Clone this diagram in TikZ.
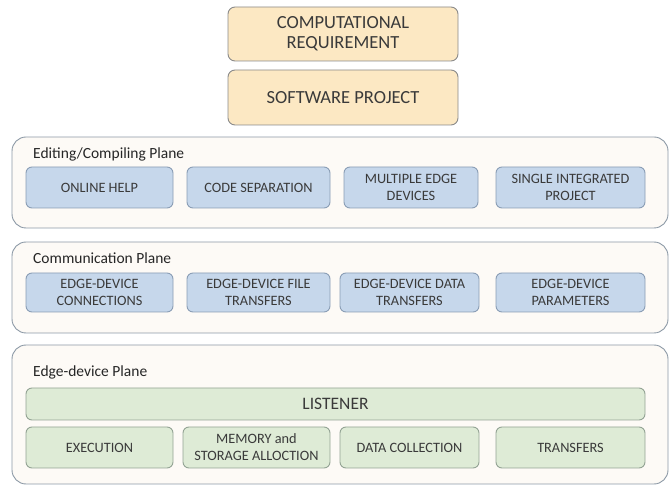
\documentclass[tikz,border=0pt]{standalone}
\usepackage{fontspec}
\setmainfont{Carlito}
\begin{document}
\begin{tikzpicture}[x=1pt,y=-1pt,
  plane/.style={draw=planeline, fill=planefill, line width=0.9pt, rounded corners=14pt},
  planetitle/.style={anchor=base west, inner sep=0pt, text=titletext, font=\fontsize{15.5}{18}\selectfont},
  topbox/.style={draw=topline, fill=topfill, line width=0.9pt, rounded corners=7pt, align=center,
    text=boxtext, inner sep=0pt, font=\fontsize{18.5}{20}\selectfont},
  bluebox/.style={draw=blueline, fill=bluefill, line width=0.9pt, rounded corners=6pt, align=center,
    text=boxtext, inner sep=0pt, font=\fontsize{14.3}{17}\selectfont},
  greenbox/.style={draw=greenline, fill=greenfill, line width=0.9pt, rounded corners=6pt, align=center,
    text=boxtext, inner sep=0pt, font=\fontsize{14.3}{17}\selectfont}]
\definecolor{planeline}{HTML}{8C99A6}
\definecolor{planefill}{HTML}{FDFAF6}
\definecolor{titletext}{HTML}{262626}
\definecolor{boxtext}{HTML}{3A3A3A}
\definecolor{topline}{HTML}{8A8A8A}
\definecolor{topfill}{HTML}{FCE8C3}
\definecolor{blueline}{HTML}{8A9DB5}
\definecolor{bluefill}{HTML}{C6D7EB}
\definecolor{greenline}{HTML}{93A394}
\definecolor{greenfill}{HTML}{DEEBD6}

\useasboundingbox (0,0) rectangle (670,486);

% top requirement boxes
\node[topbox, minimum width=230pt, minimum height=54pt] (req) at (343,34) {COMPUTATIONAL\\REQUIREMENT};
\node[topbox, minimum width=230pt, minimum height=55pt] (proj) at (343,97.5) {SOFTWARE PROJECT};

% editing / compiling plane
\node[plane, minimum width=656pt, minimum height=91pt] (edit) at (340,182.5) {};
\node[planetitle] (edittitle) at (33,159) {Editing/Compiling Plane};
\node[bluebox, minimum width=147pt, minimum height=41pt] (help) at (99.5,187.5) {ONLINE HELP};
\node[bluebox, minimum width=143pt, minimum height=41pt] (sep) at (258.5,187.5) {CODE SEPARATION};
\node[bluebox, minimum width=134pt, minimum height=41pt] (multi) at (411,187.5) {MULTIPLE EDGE\\DEVICES};
\node[bluebox, minimum width=149pt, minimum height=41pt] (single) at (570.5,187.5) {SINGLE INTEGRATED\\PROJECT};

% communication plane
\node[plane, minimum width=656pt, minimum height=91pt] (comm) at (340,287.5) {};
\node[planetitle] (commtitle) at (33,264) {Communication Plane};
\node[bluebox, minimum width=147pt, minimum height=39pt] (conn) at (99.5,292.5) {EDGE-DEVICE\\CONNECTIONS};
\node[bluebox, minimum width=143pt, minimum height=39pt] (file) at (258.5,292.5) {EDGE-DEVICE FILE\\TRANSFERS};
\node[bluebox, minimum width=139pt, minimum height=39pt] (data) at (409.5,292.5) {EDGE-DEVICE DATA\\TRANSFERS};
\node[bluebox, minimum width=149pt, minimum height=39pt] (param) at (570.5,292.5) {EDGE-DEVICE\\PARAMETERS};

% edge-device plane
\node[plane, minimum width=656pt, minimum height=139pt] (edge) at (340,414.5) {};
\node[planetitle] (edgetitle) at (33,377) {Edge-device Plane};
\node[greenbox, minimum width=619pt, minimum height=32pt, font=\fontsize{17.5}{20}\selectfont] (listen) at (335.5,404) {LISTENER};
\node[greenbox, minimum width=147pt, minimum height=41pt] (exec) at (99.5,447.5) {EXECUTION};
\node[greenbox, minimum width=147pt, minimum height=41pt] (mem) at (256.5,447.5) {MEMORY and\\STORAGE ALLOCTION};
\node[greenbox, minimum width=139pt, minimum height=41pt] (coll) at (409.5,447.5) {DATA COLLECTION};
\node[greenbox, minimum width=149pt, minimum height=41pt] (xfer) at (570.5,447.5) {TRANSFERS};
\end{tikzpicture}
\end{document}
